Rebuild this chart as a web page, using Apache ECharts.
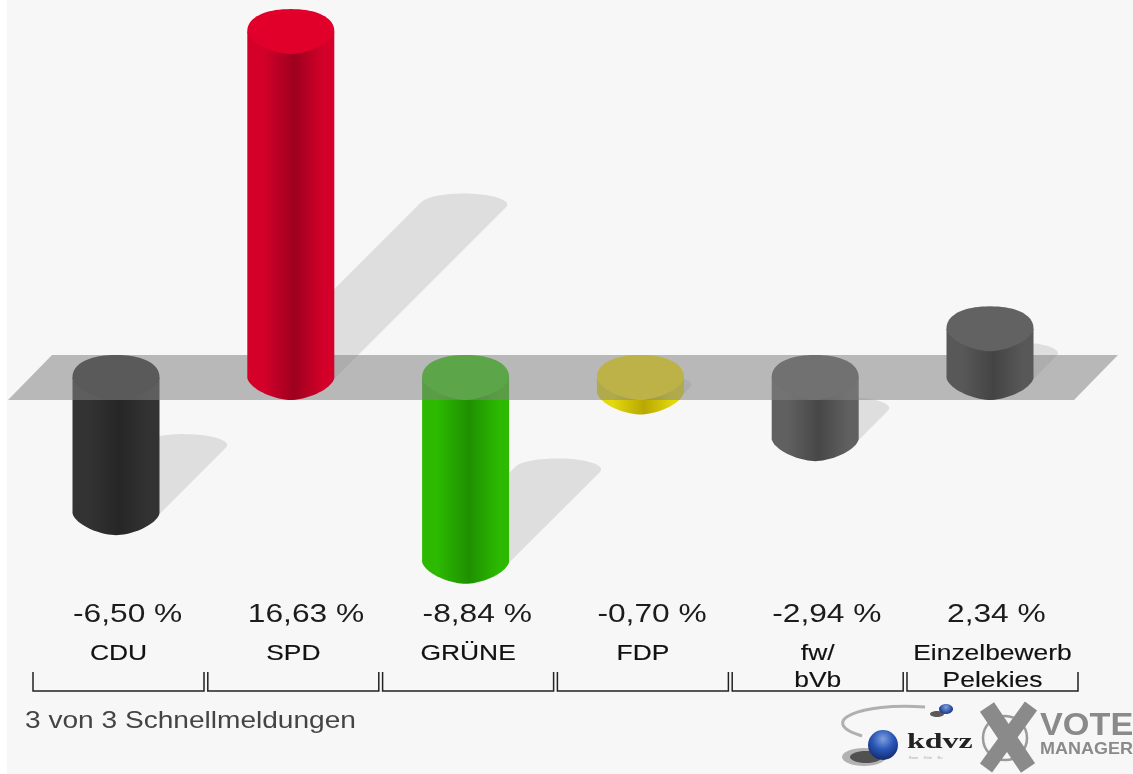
<!DOCTYPE html>
<html><head><meta charset="utf-8">
<style>html,body{margin:0;padding:0;background:#fff}#c{width:1133px;height:774px}</style>
<script src="https://cdn.jsdelivr.net/npm/echarts@6/dist/echarts.min.js"></script>
</head><body><div id="c"></div>
<script>
const parties = ['CDU','SPD','GRÜNE','FDP','fw/\nbVb','Einzelbewerb\nPelekies'];
const changes = [-6.50,16.63,-8.84,-0.70,-2.94,2.34];
const changeLabels = ['-6,50 %','16,63 %','-8,84 %','-0,70 %','-2,94 %','2,34 %'];
const footer = '3 von 3 Schnellmeldungen';
const sideColors = ['#333333','#d4002a','#2cb900','#e4d80e','#606060','#585858'];
const midColors  = ['#262626','#9e001f','#1e9000','#b8a800','#474747','#444444'];
const capColors  = ['#2a2a2a','#e0002a','#2ecd05','#ffea00','#5c5c5c','#626262'];

const chart = echarts.init(document.getElementById('c'));
const RX = 43.5, RY = 22.5, SRY = 11;

function arc(cx, cy, rx, ry, a0, a1, n) {
  const pts = [];
  for (let k = 0; k <= n; k++) {
    const t = a0 + (a1 - a0) * k / n;
    pts.push([cx + rx * Math.cos(t), cy + ry * Math.sin(t)]);
  }
  return pts;
}
// half-outline of a cylinder end; power > 1 pulls it toward a blunt point
function rim(cx, cy, sign, power, n) {
  const pts = [];
  for (let k = 0; k <= n; k++) {
    const t = Math.PI * k / n, c = Math.cos(t), s = Math.sin(t);
    pts.push([cx + RX * Math.sign(c) * Math.pow(Math.abs(c), power),
              cy + sign * RY * Math.pow(s, power)]);
  }
  return pts;
}
function grad(i) {
  return new echarts.graphic.LinearGradient(0,0,1,0,[
    {offset:0,color:sideColors[i]},{offset:.18,color:sideColors[i]},
    {offset:.54,color:midColors[i]},{offset:.88,color:sideColors[i]},{offset:1,color:sideColors[i]}]);
}
function cylinder(params, api) {
  const i = params.dataIndex, v = api.value(1);
  const p0 = api.coord([i, 0]), p1 = api.coord([i, v]);
  const cx = p0[0], top = Math.min(p0[1], p1[1]), bot = Math.max(p0[1], p1[1]);
  const body = rim(cx, bot, 1, 1.2, 40);
  body.unshift([cx + RX, top]);
  body.push([cx - RX, top]);
  const cap = rim(cx, top, 1, 1.2, 40).concat(rim(cx, top, -1, 0.9, 40).reverse());
  return {type:'group',children:[
    {type:'polygon',shape:{points:body},style:{fill:grad(i)}},
    {type:'polygon',shape:{points:cap},style:{fill:capColors[i]}}
  ]};
}
function shadow(params, api) {
  const i = params.dataIndex, v = api.value(1);
  const p0 = api.coord([i, 0]), p1 = api.coord([i, v]);
  const h = Math.abs(p1[1] - p0[1]);
  const bx = p0[0], by = Math.max(p0[1], p1[1]);
  const t0 = Math.atan2(SRY, RX);
  const pts = arc(bx + h/2, by - h/2, RX, SRY, t0 + Math.PI, t0 + 2*Math.PI, 40)
    .concat(arc(bx, by, RX, SRY, t0, t0 + Math.PI, 40));
  return {type:'polygon',shape:{points:pts},style:{fill:'#dedede'}};
}
function band(params, api) {
  const a = api.coord([0, 0]), b = api.coord([parties.length - 1, 0]);
  const y = a[1];
  return {type:'polygon',shape:{points:[
    [a[0]-108, y+RY],[a[0]-64, y-RY],[b[0]+128, y-RY],[b[0]+84, y+RY]
  ]},style:{fill:'rgba(132,132,132,0.54)'}};
}
function txt(x, y, text, font, fill, align, sx, sw) {
  return {type:'text',x:x,y:y,scaleX:sx,style:{text:text,x:0,y:0,font:font,fill:fill,
    stroke:sw?fill:null,lineWidth:sw||0,
    align:align,verticalAlign:'middle',textAlign:align,textVerticalAlign:'middle'}};
}
function labels(params, api) {
  const i = params.dataIndex, cx = api.coord([i, 0])[0];
  const kids = [];
  kids.push(txt(cx - 43, 615, changeLabels[i], '26px "Liberation Sans"', '#1c1c1c', 'left', 1.22));
  const lines = parties[i].split('\n');
  lines.forEach((l, k) => kids.push(txt(cx + 2.5, 654 + k * 27, l, '22px "Liberation Sans"', '#111', 'center', 1.2, 0.15)));
  const L = cx - 83, R = cx + 88, T = 672, B = 691;
  kids.push({type:'polyline',shape:{points:[[L,T],[L,B],[R,B],[R,T]]},style:{fill:null,stroke:'#222',lineWidth:1.5}});
  return {type:'group',children:kids};
}
function footerItem() {
  return txt(25, 721, footer, '24px "Liberation Sans"', '#444', 'left', 1.17);
}
const rows = changes.map((v,i)=>[i,v]);
const base = {type:'custom',coordinateSystem:'cartesian2d',clip:false,silent:true,encode:{x:0,y:1}};
const neg = rows.map(r => r[1] < 0 ? r : [r[0], null]);
const pos = rows.map(r => r[1] >= 0 ? r : [r[0], null]);
const guard = fn => (p, a) => (isNaN(a.value(1)) ? null : fn(p, a));

chart.setOption({
  animation:false,
  backgroundColor:'#f7f7f7',
  grid:{left:28.6,width:1048.8,top:0,height:774},
  xAxis:{type:'category',data:parties,show:false},
  yAxis:{type:'value',show:false,min:-(774-377.5)/20.8,max:377.5/20.8},
  series:[
    Object.assign({},base,{name:'shadow',data:rows,renderItem:shadow}),
    Object.assign({},base,{name:'below',data:neg,renderItem:guard(cylinder)}),
    Object.assign({},base,{name:'band',data:[[0,0]],renderItem:band}),
    Object.assign({},base,{name:'above',data:pos,renderItem:guard(cylinder)}),
    Object.assign({},base,{name:'labels',data:rows,renderItem:labels}),
    Object.assign({},base,{name:'footer',data:[[0,0]],renderItem:footerItem})
  ],
  graphic:{elements:[
    {type:'polygon',silent:true,shape:{points:[[0,0],[7,0],[7,774],[0,774]]},style:{fill:'#ffffff'}},
    {type:'bezierCurve',shape:{x1:925,y1:707,cpx1:860,cpy1:702,cpx2:815,cpy2:722,x2:862,y2:736},style:{stroke:'#b0b0b0',lineWidth:3,fill:null}},
    {type:'ellipse',shape:{cx:864,cy:757,rx:22,ry:9},style:{fill:'rgba(50,50,50,0.35)'}},
    {type:'ellipse',shape:{cx:866,cy:757,rx:16,ry:6},style:{fill:'rgba(40,40,40,0.7)'}},
    {type:'circle',shape:{cx:883,cy:745,r:15},style:{fill:new echarts.graphic.RadialGradient(.5,.3,.7,[{offset:0,color:'#7fa0e0'},{offset:.5,color:'#2a58b8'},{offset:1,color:'#152a70'}])}},
    {type:'ellipse',shape:{cx:937,cy:714,rx:7,ry:3},style:{fill:'rgba(50,50,50,0.8)'}},
    {type:'ellipse',shape:{cx:946,cy:709,rx:7,ry:5},style:{fill:new echarts.graphic.RadialGradient(.5,.3,.7,[{offset:0,color:'#7fa0e0'},{offset:1,color:'#1c3c90'}])}},
    {type:'text',x:907,y:731,scaleX:1.45,style:{text:'kdvz',font:'bold 22px "Liberation Serif"',fill:'#222'}},
    {type:'text',x:909,y:756,style:{text:'Bonn     Köln     Bu',font:'4px "Liberation Sans"',fill:'#aaa'}},
    {type:'circle',shape:{cx:1005,cy:738,r:22},style:{fill:null,stroke:'#9a9a9a',lineWidth:2.5}},
    {type:'line',shape:{x1:987,y1:707,x2:1028,y2:768},style:{stroke:'#8a8a8a',lineWidth:17}},
    {type:'line',shape:{x1:1031,y1:706,x2:986,y2:768},style:{stroke:'#8a8a8a',lineWidth:15}},
    {type:'text',x:1040,y:710,scaleX:1.07,style:{text:'VOTE',font:'bold 32px "Liberation Sans"',fill:'#8a8a8a'}},
    {type:'text',x:1040,y:741,scaleX:1.09,style:{text:'MANAGER',font:'bold 16.5px "Liberation Sans"',fill:'#8a8a8a'}}
  ]}
});
</script></body></html>
